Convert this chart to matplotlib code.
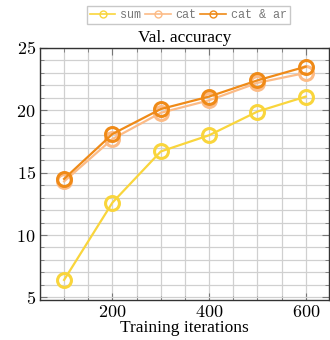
import matplotlib
matplotlib.use('Agg')
from matplotlib import pyplot as plt
from matplotlib.ticker import MultipleLocator, FuncFormatter

# data
iters = [100, 200, 300, 400, 500, 600]
acc_sum = [6.4, 12.6, 16.7, 18.0, 19.9, 21.1]
acc_cat = [14.3, 17.7, 19.8, 20.8, 22.2, 23.0]
acc_cat_ar = [14.5, 18.1, 20.1, 21.1, 22.4, 23.5]

plt.rcParams['font.family'] = 'serif'
plt.rcParams['font.serif'] = ['Liberation Serif', 'DejaVu Serif']
plt.rcParams['mathtext.fontset'] = 'cm'

fig = plt.figure(figsize=(3.3, 3.4), dpi=100)
ax = fig.add_axes([0.121, 0.118, 0.876, 0.741])

ax.plot(iters, acc_sum, 'o-', color='#f9d53c', lw=1.6, ms=10, mfc='none', mew=2.2, label='sum')
ax.plot(iters, acc_cat, 'o-', color='#fcbb86', lw=1.6, ms=10, mfc='none', mew=2.2, label='cat')
ax.plot(iters, acc_cat_ar, 'o-', color='#ef8a17', lw=1.6, ms=10, mfc='none', mew=2.2, label='cat & ar')

ax.set_xlim(50, 648)
ax.set_ylim(4.8, 25)
ax.xaxis.set_major_locator(MultipleLocator(200))
ax.xaxis.set_minor_locator(MultipleLocator(50))
ax.yaxis.set_major_locator(MultipleLocator(5))
ax.yaxis.set_minor_locator(MultipleLocator(1))
fmt = FuncFormatter(lambda v, p: '$%d$' % v)
ax.xaxis.set_major_formatter(fmt)
ax.yaxis.set_major_formatter(fmt)
ax.grid(True, which='both', color='#d0d0d0', lw=0.9)
ax.set_axisbelow(True)
ax.tick_params(which='both', direction='in', top=True, right=True, color='#777777')
ax.tick_params(which='major', length=5, labelsize=13, pad=3)
ax.tick_params(which='minor', length=3)
for s in ax.spines.values():
    s.set_color('#333333')
    s.set_linewidth(1.0)

ax.set_title('Val. accuracy', fontsize=12.5, pad=4)
ax.set_xlabel('Training iterations', fontsize=12.5, labelpad=-1)

leg = fig.legend(loc='upper center', bbox_to_anchor=(0.57, 1.0), ncol=3,
                 prop={'family': 'Liberation Mono', 'size': 8.5}, handlelength=2.2,
                 handletextpad=0.4, columnspacing=0.3, borderpad=0.25,
                 fancybox=False, edgecolor='#bbbbbb', markerscale=0.5)
for h in leg.legend_handles:
    h.set_linewidth(1.2)
    h.set_markeredgewidth(1.0)
for t in leg.get_texts():
    t.set_color('#777777')

fig.savefig('out.png', dpi=100)
